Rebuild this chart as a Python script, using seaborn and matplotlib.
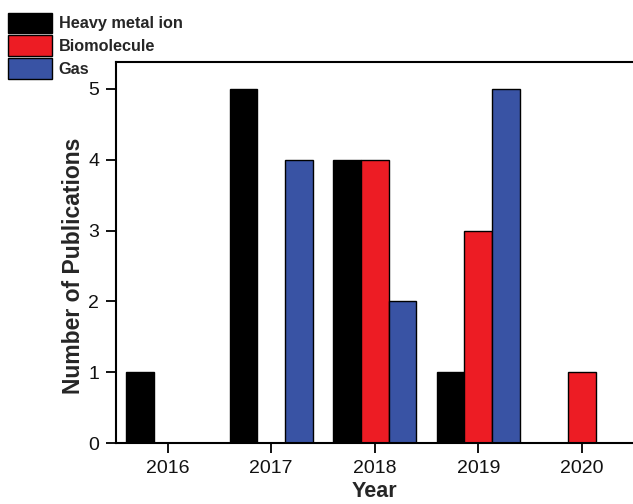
import matplotlib
matplotlib.use("Agg")
import matplotlib.pyplot as plt
import pandas as pd
import seaborn as sns

years = ["2016", "2017", "2018", "2019", "2020"]
heavy_metal = [1, 5, 4, 1, 0]
biomolecule = [0, 0, 4, 3, 1]
gas = [0, 4, 2, 5, 0]
series_names = ["Heavy metal ion", "Biomolecule", "Gas"]
colors = ["#000000", "#ED1C24", "#3953A4"]

df = pd.DataFrame({
    "Year": years * 3,
    "Count": heavy_metal + biomolecule + gas,
    "Type": [n for n in series_names for _ in years],
})

sns.set_style("ticks")
plt.rcParams["font.family"] = ["Liberation Sans", "DejaVu Sans"]

fig = plt.figure(figsize=(6.33, 5.04), dpi=100)
ax = fig.add_axes([0.183, 0.121, 0.818, 0.756])

sns.barplot(data=df, x="Year", y="Count", hue="Type", hue_order=series_names,
            palette=colors, saturation=1, edgecolor="black", linewidth=1.0,
            width=0.8, errorbar=None, ax=ax)

ax.set_xlim(-0.5, 4.5)
ax.set_ylim(0, 5.38)
ax.set_yticks(range(0, 6))
ax.tick_params(axis="both", direction="out", length=7, width=1.3,
               labelsize=14, color="black", labelcolor="#111111")
ax.tick_params(axis="x", pad=5)
ax.tick_params(axis="y", pad=5)
for side in ["left", "bottom", "top"]:
    ax.spines[side].set_linewidth(1.5)
    ax.spines[side].set_color("black")
ax.spines["right"].set_visible(False)

ax.set_xlabel("Year", fontsize=15.5, fontweight="bold", labelpad=3)
ax.set_ylabel("Number of Publications", fontsize=16.5, fontweight="bold")
ax.yaxis.set_label_coords(-0.06, 0.465)

ax.get_legend().remove()
handles, labels = ax.get_legend_handles_labels()
fig.legend(handles, labels, loc="upper left", bbox_to_anchor=(0.013, 0.975),
           frameon=False, prop={"size": 11.7, "weight": "bold"},
           handlelength=2.7, handleheight=1.6, labelspacing=0.12,
           handletextpad=0.4, borderaxespad=0, borderpad=0)

fig.savefig("out.png", dpi=100)
